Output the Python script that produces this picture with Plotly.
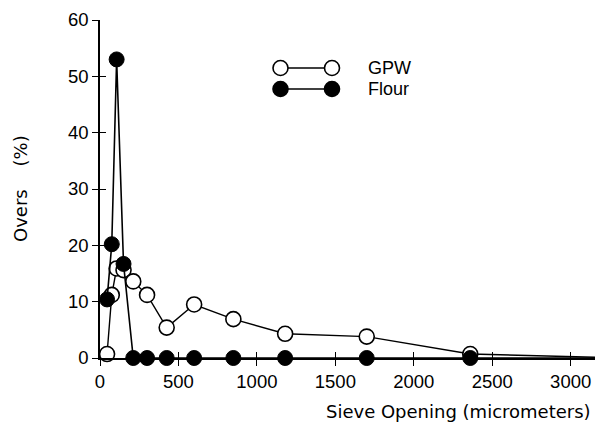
import plotly.graph_objects as go

# Data (sieve opening in micrometers, overs in %)
sieve = [45, 75, 106, 150, 212, 300, 425, 600, 850, 1180, 1700, 2360, 3350]
gpw = [0.7, 11.2, 15.9, 15.6, 13.6, 11.2, 5.4, 9.5, 6.9, 4.3, 3.8, 0.7, 0.0]
flour = [10.4, 20.2, 53.0, 16.7, 0, 0, 0, 0, 0, 0, 0, 0, 0]
x_ticks = [0, 500, 1000, 1500, 2000, 2500, 3000]
y_ticks = [0, 10, 20, 30, 40, 50, 60]

FONT = "Liberation Sans"
TFONT = "DejaVu Sans"
W, H = 595, 423
L, R, T, B = 100, 0, 20, 65

fig = go.Figure()
fig.add_trace(go.Scatter(
    x=sieve, y=gpw, mode="lines+markers", name="GPW",
    line=dict(color="black", width=1.4),
    marker=dict(symbol="circle", size=15, color="white", line=dict(color="black", width=1.6)),
    cliponaxis=False, showlegend=False))
fig.add_trace(go.Scatter(
    x=sieve, y=flour, mode="lines+markers", name="Flour",
    line=dict(color="black", width=1.6),
    marker=dict(symbol="circle", size=15, color="black", line=dict(color="black", width=1)),
    cliponaxis=False, showlegend=False))

xr = [0, 3155]
yr = [0, 60]
axis_common = dict(showgrid=False, zeroline=False, linecolor="black", linewidth=1.5,
                   tickcolor="black", tickwidth=1.3,
                   tickfont=dict(family=FONT, size=18.5, color="black"))
fig.update_layout(
    width=W, height=H, margin=dict(l=L, r=R, t=T, b=B),
    paper_bgcolor="white", plot_bgcolor="white",
    xaxis=dict(range=xr, tickvals=x_ticks, ticks="outside", ticklen=6, showline=True, **axis_common),
    yaxis=dict(range=yr, tickvals=y_ticks, ticks="outside", ticklen=6, showline=True, **axis_common),
    xaxis2=dict(range=xr, overlaying="x", tickvals=x_ticks, ticks="inside", ticklen=6,
                showticklabels=False, showline=False, showgrid=False, zeroline=False,
                tickcolor="black", tickwidth=1.3, anchor="y"),
    yaxis2=dict(range=yr, overlaying="y", tickvals=y_ticks, ticks="inside", ticklen=6,
                showticklabels=False, showline=False, showgrid=False, zeroline=False,
                tickcolor="black", tickwidth=1.3, anchor="x"),
)
# invisible trace to activate the overlay axes
fig.add_trace(go.Scatter(x=[None], y=[None], xaxis="x2", yaxis="y2", showlegend=False, hoverinfo="skip"))

pw, ph = W - L - R, H - T - B
# convert page pixel coordinates to paper coordinates
def px(xp):
    return (xp - L) / pw
def py(yp):
    return (H - B - yp) / ph

# Axis titles
fig.add_annotation(text="Sieve Opening (micrometers)", xref="paper", yref="paper",
                   x=px(593), y=py(411), showarrow=False, xanchor="right", yanchor="middle",
                   font=dict(family=TFONT, size=18, color="black"))
fig.add_annotation(text="Overs\u00a0\u00a0\u00a0\u00a0(%)", xref="paper", yref="paper",
                   x=px(20), y=py(189), showarrow=False, textangle=-90,
                   xanchor="center", yanchor="middle",
                   font=dict(family=TFONT, size=18, color="black"))

# Legend drawn manually
legend_rows = [("GPW", 68, "white"), ("Flour", 89, "black")]
for label, yy, fill in legend_rows:
    fig.add_shape(type="line", xref="paper", yref="paper",
                  x0=px(288), x1=px(324), y0=py(yy), y1=py(yy),
                  line=dict(color="black", width=1.4))
    for cx in (280.5, 332):
        fig.add_shape(type="circle", xref="paper", yref="paper",
                      xsizemode="pixel", ysizemode="pixel",
                      xanchor=px(cx), yanchor=py(yy),
                      x0=-7.5, x1=7.5, y0=-7.5, y1=7.5,
                      fillcolor=fill, line=dict(color="black", width=1.6))
    fig.add_annotation(text=label, xref="paper", yref="paper", x=px(366), y=py(yy),
                       showarrow=False, xanchor="left", yanchor="middle",
                       font=dict(family=FONT, size=18, color="black"))

fig.write_html("out.html", config={"displayModeBar": False},
               post_script="document.body.style.margin='0';document.body.style.overflow='hidden';")
